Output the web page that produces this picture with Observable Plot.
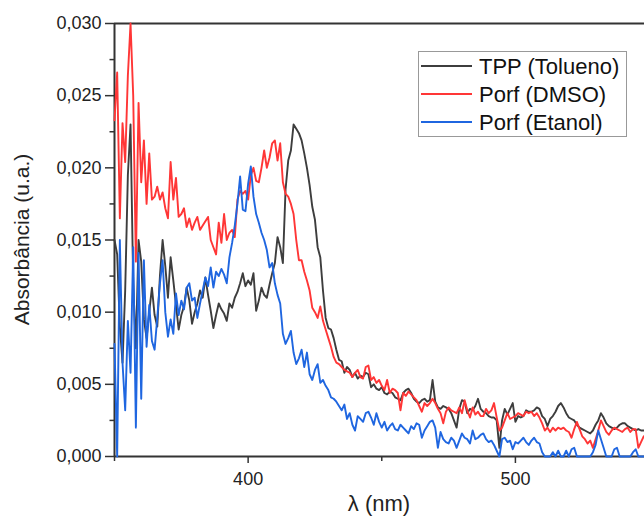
<!DOCTYPE html>
<html><head><meta charset="utf-8">
<script src="https://cdn.jsdelivr.net/npm/d3@7"></script>
<script src="https://cdn.jsdelivr.net/npm/@observablehq/plot@0.6"></script>
<style>body{margin:0;background:#fff}#chart{width:644px;height:524px}</style>
</head><body><div id="chart"></div><script>
const wavelength = [
350,351,352,353,354,355,356,357,358,359,360,361,362,363,364,365,366,367,368,369,
370,371,372,373,374,375,376,377,378,379,380,381,382,383,384,385,386,387,388,389,
390,391,392,393,394,395,396,397,398,399,400,401,402,403,404,405,406,407,408,409,
410,411,412,413,414,415,416,417,418,419,420,421,422,423,424,425,426,427,428,429,
430,431,432,433,434,435,436,437,438,439,440,441,442,443,444,445,446,447,448,449,
450,451,452,453,454,455,456,457,458,459,460,461,462,463,464,465,466,467,468,469,
470,471,472,473,474,475,476,477,478,479,480,481,482,483,484,485,486,487,488,489,
490,491,492,493,494,495,496,497,498,499,500,501,502,503,504,505,506,507,508,509,
510,511,512,513,514,515,516,517,518,519,520,521,522,523,524,525,526,527,528,529,
530,531,532,533,534,535,536,537,538,539,540,541,542,543,544,545,546,547,548];

const tppTolueno = [
0.0150,0.0140,0.0090,0.0065,0.0115,0.0195,0.0230,0.0120,0.0075,0.0150,
0.0135,0.0095,0.0082,0.0100,0.0117,0.0098,0.0090,0.0125,0.0150,0.0132,
0.0110,0.0138,0.0122,0.0105,0.0088,0.0098,0.0104,0.0117,0.0108,0.0092,
0.0100,0.0106,0.0115,0.0110,0.0124,0.0112,0.0101,0.0089,0.0098,0.0106,
0.0102,0.0099,0.0094,0.0106,0.0103,0.0110,0.0114,0.0120,0.0127,0.0118,
0.0122,0.0119,0.0127,0.0101,0.0108,0.0117,0.0112,0.0110,0.0119,0.0127,
0.0134,0.0152,0.0145,0.0134,0.0185,0.0205,0.0212,0.0230,0.0227,0.0224,
0.0219,0.0210,0.0200,0.0188,0.0173,0.0164,0.0145,0.0138,0.0115,0.0096,
0.0089,0.0088,0.0082,0.0074,0.0067,0.0066,0.0058,0.0062,0.0060,0.0055,
0.0058,0.0054,0.0056,0.0055,0.0058,0.0057,0.0048,0.0050,0.0047,0.0046,
0.0048,0.0044,0.0043,0.0045,0.0044,0.0041,0.0040,0.0039,0.0044,0.0046,
0.0047,0.0044,0.0040,0.0038,0.0037,0.0039,0.0040,0.0038,0.0039,0.0053,
0.0038,0.0034,0.0033,0.0035,0.0034,0.0033,0.0030,0.0025,0.0020,0.0033,
0.0039,0.0038,0.0030,0.0033,0.0032,0.0035,0.0040,0.0033,0.0031,0.0030,
0.0028,0.0027,0.0027,0.0025,0.0006,0.0025,0.0033,0.0029,0.0033,0.0037,
0.0024,0.0028,0.0027,0.0028,0.0032,0.0031,0.0031,0.0032,0.0034,0.0033,
0.0028,0.0026,0.0021,0.0026,0.0028,0.0031,0.0035,0.0037,0.0034,0.0030,
0.0027,0.0026,0.0025,0.0022,0.0020,0.0019,0.0018,0.0017,0.0016,0.0018,
0.0022,0.0025,0.0030,0.0027,0.0023,0.0021,0.0020,0.0019,0.0020,0.0022,
0.0023,0.0023,0.0021,0.0020,0.0019,0.0018,0.0019,0.0018,0.0018];

const porfDMSO = [
0.0233,0.0266,0.0165,0.0231,0.0204,0.0264,0.0300,0.0250,0.0135,0.0245,
0.0190,0.0219,0.0175,0.0210,0.0178,0.0180,0.0187,0.0178,0.0183,0.0172,
0.0165,0.0204,0.0178,0.0193,0.0166,0.0168,0.0172,0.0159,0.0165,0.0157,
0.0162,0.0166,0.0157,0.0160,0.0163,0.0166,0.0150,0.0145,0.0140,0.0162,
0.0148,0.0168,0.0150,0.0155,0.0157,0.0152,0.0178,0.0184,0.0182,0.0184,
0.0178,0.0195,0.0200,0.0191,0.0190,0.0200,0.0212,0.0200,0.0207,0.0217,
0.0219,0.0205,0.0217,0.0190,0.0182,0.0180,0.0175,0.0168,0.0150,0.0136,
0.0136,0.0128,0.0122,0.0115,0.0103,0.0100,0.0096,0.0104,0.0094,0.0088,
0.0082,0.0076,0.0069,0.0065,0.0064,0.0062,0.0060,0.0059,0.0058,0.0055,
0.0058,0.0060,0.0055,0.0054,0.0062,0.0063,0.0053,0.0055,0.0051,0.0053,
0.0049,0.0046,0.0053,0.0044,0.0047,0.0046,0.0044,0.0032,0.0044,0.0042,
0.0045,0.0043,0.0041,0.0039,0.0035,0.0031,0.0037,0.0035,0.0037,0.0040,
0.0037,0.0033,0.0030,0.0023,0.0031,0.0034,0.0032,0.0031,0.0030,0.0034,
0.0030,0.0039,0.0032,0.0027,0.0034,0.0029,0.0031,0.0028,0.0028,0.0033,
0.0030,0.0032,0.0037,0.0027,0.0018,0.0020,0.0025,0.0030,0.0026,0.0027,
0.0028,0.0030,0.0029,0.0028,0.0031,0.0030,0.0031,0.0028,0.0030,0.0027,
0.0023,0.0018,0.0020,0.0017,0.0020,0.0018,0.0020,0.0019,0.0020,0.0018,
0.0017,0.0013,0.0019,0.0024,0.0019,0.0014,0.0012,0.0009,0.0011,0.0006,
0.0012,0.0018,0.0025,0.0021,0.0017,0.0015,0.0018,0.0020,0.0019,0.0018,
0.0017,0.0019,0.0020,0.0017,0.0019,0.0019,0.0006,0.0010,0.0014];

const porfEtanol = [
0.0078,0.0000,0.0150,0.0065,0.0032,0.0094,0.0058,0.0145,0.0020,0.0141,
0.0040,0.0136,0.0076,0.0105,0.0080,0.0074,0.0096,0.0120,0.0136,0.0100,
0.0083,0.0095,0.0085,0.0113,0.0098,0.0108,0.0102,0.0117,0.0120,0.0108,
0.0110,0.0096,0.0106,0.0115,0.0124,0.0118,0.0131,0.0117,0.0128,0.0125,
0.0130,0.0126,0.0120,0.0138,0.0148,0.0160,0.0175,0.0194,0.0171,0.0170,
0.0189,0.0201,0.0180,0.0168,0.0162,0.0155,0.0150,0.0143,0.0131,0.0134,
0.0120,0.0112,0.0106,0.0085,0.0078,0.0082,0.0087,0.0072,0.0064,0.0068,
0.0074,0.0062,0.0072,0.0057,0.0053,0.0060,0.0064,0.0051,0.0053,0.0049,
0.0046,0.0041,0.0040,0.0038,0.0035,0.0032,0.0036,0.0026,0.0030,0.0022,
0.0018,0.0028,0.0026,0.0024,0.0030,0.0031,0.0027,0.0022,0.0030,0.0024,
0.0020,0.0024,0.0018,0.0021,0.0023,0.0019,0.0018,0.0022,0.0020,0.0018,
0.0016,0.0021,0.0019,0.0023,0.0022,0.0013,0.0018,0.0021,0.0024,0.0025,
0.0020,0.0006,0.0017,0.0012,0.0010,0.0009,0.0013,0.0011,0.0006,0.0011,
0.0016,0.0013,0.0012,0.0009,0.0018,0.0012,0.0013,0.0015,0.0016,0.0012,
0.0010,0.0011,0.0008,0.0004,0.0000,0.0012,0.0013,0.0010,0.0011,0.0005,
0.0010,0.0009,0.0011,0.0013,0.0010,0.0008,0.0011,0.0013,0.0010,0.0009,
0.0003,0.0000,0.0000,0.0000,0.0003,0.0000,0.0004,0.0000,0.0000,0.0004,
0.0000,0.0005,0.0006,0.0000,0.0000,0.0000,0.0000,0.0000,0.0000,0.0003,
0.0008,0.0018,0.0012,0.0006,0.0000,0.0000,0.0000,0.0005,0.0006,0.0000,
0.0000,0.0000,0.0000,0.0000,0.0003,0.0005,0.0000,0.0000,0.0000];

const seriesNames = ["TPP (Tolueno)", "Porf (DMSO)", "Porf (Etanol)"];
const seriesColors = ["#3d3d3d", "#ff3636", "#1f66e0"];
const yTickValues = [0, 0.005, 0.010, 0.015, 0.020, 0.025, 0.030];
const yMinorTicks = [0.0025, 0.0075, 0.0125, 0.0175, 0.0225, 0.0275];
const xTickValues = [400, 500];
const xMinorTicks = [350, 450];
const xTitle = "λ (nm)";
const yTitle = "Absorbância (u.a.)";

const seriesValues = [tppTolueno, porfDMSO, porfEtanol];
const rows = [];
seriesValues.forEach((vals, k) => {
  wavelength.forEach((w, i) => rows.push({w, a: vals[i], s: seriesNames[k]}));
});

const axisColor = "#333";
const chart = Plot.plot({
  width: 644, height: 524,
  marginLeft: 114, marginRight: 0, marginTop: 23, marginBottom: 68,
  style: {fontFamily: '"Liberation Sans", Arial, sans-serif', fontSize: "18px", color: "#222", background: "#fff", overflow: "visible"},
  x: {domain: [350, 548.3]},
  y: {domain: [0, 0.03]},
  color: {domain: seriesNames, range: seriesColors},
  marks: [
    Plot.axisY(yMinorTicks, {tickSize: 4.5, tickFormat: () => "", stroke: axisColor, strokeWidth: 1.5, label: null}),
    Plot.axisY(yTickValues, {tickSize: 9, tickPadding: 4, tickFormat: d => d.toFixed(3).replace(".", ","), stroke: axisColor, strokeWidth: 1.5, label: null, fontSize: 18}),
    Plot.axisX(xMinorTicks, {tickSize: 5, tickFormat: () => "", stroke: axisColor, strokeWidth: 1.5, label: null}),
    Plot.axisX(xTickValues, {tickSize: 7, tickPadding: 9, tickFormat: d => String(d), stroke: axisColor, strokeWidth: 1.5, label: null, fontSize: 18}),
    Plot.ruleX([350], {stroke: axisColor, strokeWidth: 2}),
    Plot.ruleY([0, 0.03], {stroke: axisColor, strokeWidth: 2}),
    Plot.line(rows, {x: "w", y: "a", z: "s", stroke: "s", strokeWidth: 1.9})
  ]
});
document.getElementById("chart").appendChild(chart);

const svg = d3.select(chart);
const font = '"Liberation Sans", Arial, sans-serif';
svg.append("text").attr("x", 379).attr("y", 511).attr("text-anchor", "middle")
  .style("font-family", font).style("font-size", "22px").attr("fill", "#222").text(xTitle);
svg.append("text").attr("transform", "translate(29,239.5) rotate(-90)").attr("text-anchor", "middle")
  .style("font-family", font).style("font-size", "21px").attr("fill", "#222").text(yTitle);

const lg = svg.append("g");
lg.append("rect").attr("x", 418.5).attr("y", 51.5).attr("width", 208).attr("height", 85)
  .attr("fill", "#fff").attr("stroke", "#999").attr("stroke-width", 1);
seriesNames.forEach((name, i) => {
  const y = 66 + 28 * i;
  lg.append("line").attr("x1", 421).attr("x2", 472).attr("y1", y).attr("y2", y)
    .attr("stroke", seriesColors[i]).attr("stroke-width", 2);
  lg.append("text").attr("x", 479).attr("y", y).attr("dy", "0.35em").attr("text-anchor", "start")
    .style("font-family", font).style("font-size", "22px").attr("fill", "#111").text(name);
});
</script></body></html>
